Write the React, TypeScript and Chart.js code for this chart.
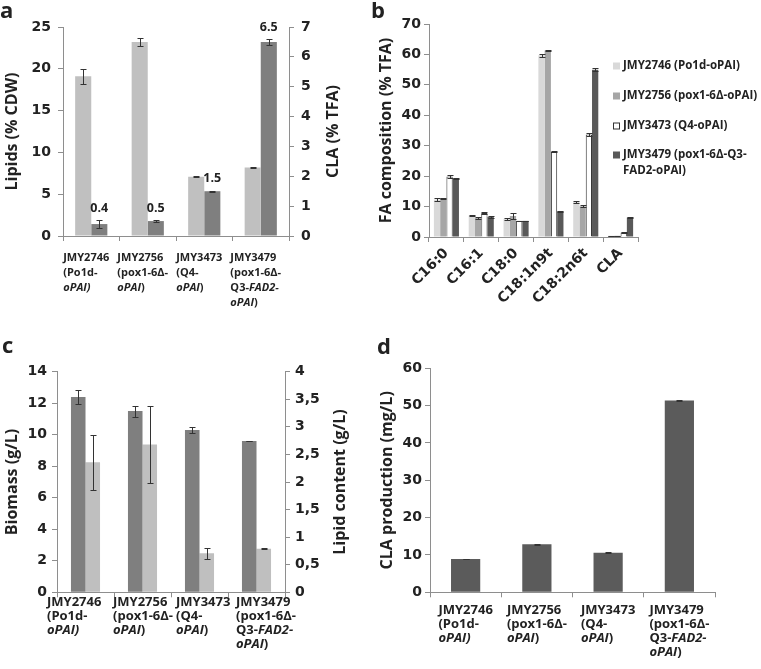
import React, { useEffect, useRef } from "react";
import { Chart, registerables } from "chart.js";

Chart.register(...registerables);

const FONT = "'Open Sans', 'DejaVu Sans', sans-serif";
const TICKFONT = "'DejaVu Sans', sans-serif";
const TEXT = "#222222";
const AXIS = "#8e8e8e";
const ERR = "#333333";

// ---------- shared categories ----------
const strains = ["JMY2746", "JMY2756", "JMY3473", "JMY3479"];
// "_" toggles italic
const strainLabelLines = [
  ["JMY2746", "(Po1d-", "_oPAI)_"],
  ["JMY2756", "(pox1-6Δ-", "_oPAI_)"],
  ["JMY3473", "(Q4-", "_oPAI_)"],
  ["JMY3479", "(pox1-6Δ-", "Q3-_FAD2-_", "_oPAI_)"],
];

// ---------- panel a ----------
const lipidsCDW = [19.1, 23.2, 7.1, 8.2];
const lipidsCDWErr = [0.9, 0.5, 0.1, 0.05];
const claTFA = [0.4, 0.5, 1.5, 6.5];
const claTFAErr = [0.12, 0.02, 0.02, 0.1];
const lipidsTicks = { min: 0, max: 25, step: 5 };
const claTFATicks = { min: 0, max: 7, step: 1 };

// ---------- panel b ----------
const fattyAcids = ["C16:0", "C16:1", "C18:0", "C18:1n9t", "C18:2n6t", "CLA"];
const faSeriesNames = [
  "JMY2746 (Po1d-oPAI)",
  "JMY2756 (pox1-6Δ-oPAI)",
  "JMY3473 (Q4-oPAI)",
  "JMY3479 (pox1-6Δ-Q3-FAD2-oPAI)",
];
const fa2746 = [12.3, 7.1, 6.0, 59.7, 11.5, 0.4];
const fa2756 = [12.7, 6.3, 6.9, 61.3, 10.1, 0.4];
const fa3473 = [19.9, 7.9, 5.3, 28.0, 33.7, 1.5];
const fa3479 = [19.2, 6.6, 5.3, 8.4, 55.0, 6.4];
const fa2746Err = [0.5, 0.15, 0.4, 0.4, 0.2, 0.05];
const fa2756Err = [0.2, 0.25, 1.1, 0.2, 0.3, 0.05];
const fa3473Err = [0.4, 0.3, 0.1, 0.1, 0.5, 0.1];
const fa3479Err = [0.2, 0.2, 0.1, 0.1, 0.4, 0.1];
const faTicks = { min: 0, max: 70, step: 10 };

// ---------- panel c ----------
const biomass = [12.4, 11.5, 10.3, 9.6];
const biomassErr = [0.45, 0.35, 0.2, 0.02];
const lipidContent = [2.36, 2.68, 0.71, 0.79];
const lipidContentErr = [0.5, 0.7, 0.1, 0.01];
const biomassTicks = { min: 0, max: 14, step: 2 };
const lipidContentTicks = { min: 0, max: 4, step: 0.5 };

// ---------- panel d ----------
const claProduction = [8.9, 12.9, 10.6, 51.4];
const claProductionErr = [0.1, 0.1, 0.1, 0.1];
const claProdTicks = { min: 0, max: 60, step: 10 };

// ---------- helpers ----------
function parseLine(s: string) {
  const parts = s.split("_");
  return parts.map((t, i) => ({ t, i: i % 2 === 1 })).filter((p) => p.t.length > 0);
}

function fontStr(size: number, italic = false, family = FONT) {
  return `${italic ? "italic " : ""}bold ${size}px ${family}`;
}

function xScale(height: number, showTicks = false, tickFont = 14) {
  return {
    type: "category",
    offset: true,
    grid: {
      display: true,
      drawOnChartArea: false,
      drawTicks: true,
      tickLength: 5,
      color: AXIS,
      offset: true,
    },
    border: { display: true, color: AXIS, width: 1 },
    ticks: showTicks
      ? {
          display: true,
          autoSkip: false,
          minRotation: 45,
          maxRotation: 45,
          padding: 3,
          color: TEXT,
          font: { family: TICKFONT, size: tickFont, weight: "bold" },
        }
      : { display: false },
    afterFit: (s: any) => {
      s.height = height;
    },
  };
}

function yScale(o: {
  min: number;
  max: number;
  step: number;
  width: number;
  pad: number;
  pos: "left" | "right";
  comma?: boolean;
}) {
  return {
    type: "linear",
    position: o.pos,
    min: o.min,
    max: o.max,
    ticks: {
      stepSize: o.step,
      padding: o.pad,
      color: TEXT,
      font: { family: TICKFONT, size: 14, weight: "bold" },
      callback: (v: any) => {
        const s = String(Math.round(Number(v) * 100) / 100);
        return o.comma ? s.replace(".", ",") : s;
      },
    },
    grid: {
      drawOnChartArea: false,
      drawTicks: true,
      tickLength: 5,
      color: AXIS,
    },
    border: { display: true, color: AXIS, width: 1 },
    afterFit: (s: any) => {
      s.width = o.width;
    },
  };
}

type Decor = {
  titles: { text: string; x: number }[];
  xLabels?: {
    size: number;
    lineHeight: number;
    firstY: number;
    align: "center" | "left";
    shifts: number[];
  };
  errors: (number[] | null)[];
  valueLabels?: { datasetIndex: number; gap: number; size: number };
  legend?: {
    x: number;
    ys: number[];
    lineGap: number;
    maxWidth: number;
    names: string[];
    fills: string[];
    strokes: string[];
    size: number;
  };
};

function wrapText(ctx: CanvasRenderingContext2D, text: string, maxW: number): string[] {
  if (ctx.measureText(text).width <= maxW) return [text];
  let best = -1;
  for (let i = 0; i < text.length; i++) {
    const c = text[i];
    if (c === "-" || c === " ") {
      const head = text.slice(0, i + 1);
      if (ctx.measureText(head.trimEnd()).width <= maxW) best = i + 1;
    }
  }
  if (best <= 0) return [text];
  return [text.slice(0, best).trimEnd(), ...wrapText(ctx, text.slice(best).trimStart(), maxW)];
}

function decorPlugin(cfg: Decor) {
  return {
    id: "decor",
    afterDatasetsDraw(chart: any) {
      const ctx: CanvasRenderingContext2D = chart.ctx;
      ctx.save();
      ctx.strokeStyle = ERR;
      ctx.lineWidth = 1;
      chart.data.datasets.forEach((ds: any, di: number) => {
        const errs = cfg.errors[di];
        if (!errs) return;
        const meta = chart.getDatasetMeta(di);
        const ys = chart.scales[meta.yAxisID];
        meta.data.forEach((bar: any, i: number) => {
          const v = ds.data[i];
          const e = errs[i];
          const x = Math.round(bar.x) + 0.5;
          const yT = Math.round(ys.getPixelForValue(v + e)) + 0.5;
          const yB = Math.round(ys.getPixelForValue(v - e)) + 0.5;
          ctx.beginPath();
          ctx.moveTo(x, yT);
          ctx.lineTo(x, yB);
          ctx.moveTo(x - 3, yT);
          ctx.lineTo(x + 3, yT);
          ctx.moveTo(x - 3, yB);
          ctx.lineTo(x + 3, yB);
          ctx.stroke();
        });
      });
      ctx.restore();
    },
    afterDraw(chart: any) {
      const ctx: CanvasRenderingContext2D = chart.ctx;
      const area = chart.chartArea;
      ctx.save();
      ctx.fillStyle = TEXT;

      // axis titles (rotated, reading bottom to top)
      cfg.titles.forEach((t) => {
        ctx.save();
        ctx.translate(t.x, (area.top + area.bottom) / 2);
        ctx.rotate(-Math.PI / 2);
        ctx.font = fontStr(16);
        ctx.textAlign = "center";
        ctx.textBaseline = "middle";
        ctx.fillText(t.text, 0, 0);
        ctx.restore();
      });

      // multi-line strain labels with italic parts
      if (cfg.xLabels) {
        const xl = cfg.xLabels;
        const xs = chart.scales.x;
        const half = (xs.right - xs.left) / strains.length / 2;
        ctx.textAlign = "left";
        ctx.textBaseline = "middle";
        strainLabelLines.forEach((lines, ci) => {
          const c = xs.getPixelForValue(ci);
          const parsed = lines.map(parseLine);
          const widths = parsed.map((segs) =>
            segs.reduce((w, s) => {
              ctx.font = fontStr(xl.size, s.i);
              return w + ctx.measureText(s.t).width;
            }, 0)
          );
          const bw = Math.max(...widths);
          const x0 =
            xl.align === "center" ? c - bw / 2 + xl.shifts[ci] : c - half + xl.shifts[ci];
          parsed.forEach((segs, li) => {
            let x = x0;
            const y = xs.top + xl.firstY + li * xl.lineHeight;
            segs.forEach((s) => {
              ctx.font = fontStr(xl.size, s.i);
              ctx.fillText(s.t, x, y);
              x += ctx.measureText(s.t).width;
            });
          });
        });
      }

      // value labels above bars
      if (cfg.valueLabels) {
        const vl = cfg.valueLabels;
        const ds = chart.data.datasets[vl.datasetIndex];
        const meta = chart.getDatasetMeta(vl.datasetIndex);
        const ys = chart.scales[meta.yAxisID];
        const errs = cfg.errors[vl.datasetIndex] || [];
        ctx.font = fontStr(vl.size);
        ctx.textAlign = "center";
        ctx.textBaseline = "middle";
        meta.data.forEach((bar: any, i: number) => {
          const v = ds.data[i];
          const y = ys.getPixelForValue(v + (errs[i] || 0)) - vl.gap;
          ctx.fillText(Number(v).toFixed(1), bar.x, y);
        });
      }

      // legend
      if (cfg.legend) {
        const lg = cfg.legend;
        ctx.font = fontStr(lg.size);
        ctx.textAlign = "left";
        ctx.textBaseline = "middle";
        lg.names.forEach((name, i) => {
          const y = lg.ys[i];
          ctx.fillStyle = lg.fills[i];
          ctx.fillRect(lg.x, y - 3.5, 7, 7);
          if (lg.strokes[i] !== "none") {
            ctx.strokeStyle = lg.strokes[i];
            ctx.lineWidth = 1;
            ctx.strokeRect(lg.x + 0.5, y - 3.5 + 0.5, 6, 6);
          }
          ctx.fillStyle = TEXT;
          const lines = wrapText(ctx, name, lg.maxWidth);
          lines.forEach((ln, li) => ctx.fillText(ln, lg.x + 10, y + li * lg.lineGap));
        });
      }
      ctx.restore();
    },
  };
}

// ---------- configs ----------
function configA() {
  return {
    type: "bar",
    data: {
      labels: strains,
      datasets: [
        {
          label: "Lipids (% CDW)",
          data: lipidsCDW,
          backgroundColor: "#c0c0c0",
          borderWidth: 0,
          yAxisID: "y",
          categoryPercentage: 0.57,
          barPercentage: 1,
        },
        {
          label: "CLA (% TFA)",
          data: claTFA,
          backgroundColor: "#7f7f7f",
          borderWidth: 0,
          yAxisID: "y1",
          categoryPercentage: 0.57,
          barPercentage: 1,
        },
      ],
    },
    options: {
      responsive: false,
      animation: false,
      layout: { padding: { top: 27, left: 0, right: 0, bottom: 0 } },
      plugins: { legend: { display: false }, tooltip: { enabled: false } },
      scales: {
        x: xScale(99),
        y: yScale({ ...lipidsTicks, width: 63, pad: 7, pos: "left" }),
        y1: yScale({ ...claTFATicks, width: 86, pad: 7, pos: "right" }),
      },
    },
    plugins: [
      decorPlugin({
        titles: [
          { text: "Lipids (% CDW)", x: 12 },
          { text: "CLA (% TFA)", x: 333 },
        ],
        xLabels: { size: 11, lineHeight: 15, firstY: 22, align: "center", shifts: [-5, -5, -5, -5] },
        errors: [lipidsCDWErr, claTFAErr],
        valueLabels: { datasetIndex: 1, gap: 12, size: 12.5 },
      }),
    ],
  };
}

const faFills = ["#d9d9d9", "#a6a6a6", "#ffffff", "#595959"];
const faStrokes = ["none", "none", "#333333", "none"];

function configB() {
  const series = [fa2746, fa2756, fa3473, fa3479];
  return {
    type: "bar",
    data: {
      labels: fattyAcids,
      datasets: series.map((d, i) => ({
        label: faSeriesNames[i],
        data: d,
        backgroundColor: faFills[i],
        borderColor: faStrokes[i] === "none" ? faFills[i] : faStrokes[i],
        borderWidth: faStrokes[i] === "none" ? 0 : 1,
        categoryPercentage: 0.72,
        barPercentage: 1,
      })),
    },
    options: {
      responsive: false,
      animation: false,
      layout: { padding: { top: 24, left: 0, right: 123, bottom: 0 } },
      plugins: { legend: { display: false }, tooltip: { enabled: false } },
      scales: {
        x: xScale(98, true, 14),
        y: yScale({ ...faTicks, width: 54, pad: 3, pos: "left" }),
      },
    },
    plugins: [
      decorPlugin({
        titles: [{ text: "FA composition (% TFA)", x: 11 }],
        errors: [fa2746Err, fa2756Err, fa3473Err, fa3479Err],
        legend: {
          x: 238,
          ys: [66, 96, 126, 155],
          lineGap: 16,
          maxWidth: 150,
          names: faSeriesNames,
          fills: faFills,
          strokes: faStrokes,
          size: 11.5,
        },
      }),
    ],
  };
}

function configC() {
  return {
    type: "bar",
    data: {
      labels: strains,
      datasets: [
        {
          label: "Biomass (g/L)",
          data: biomass,
          backgroundColor: "#7f7f7f",
          borderWidth: 0,
          yAxisID: "y",
          categoryPercentage: 0.51,
          barPercentage: 1,
        },
        {
          label: "Lipid content (g/L)",
          data: lipidContent,
          backgroundColor: "#bfbfbf",
          borderWidth: 0,
          yAxisID: "y1",
          categoryPercentage: 0.51,
          barPercentage: 1,
        },
      ],
    },
    options: {
      responsive: false,
      animation: false,
      layout: { padding: { top: 36.7, left: 0, right: 0, bottom: 0 } },
      plugins: { legend: { display: false }, tooltip: { enabled: false } },
      scales: {
        x: xScale(76.7),
        y: yScale({ ...biomassTicks, width: 57, pad: 5, pos: "left" }),
        y1: yScale({ ...lipidContentTicks, width: 90, pad: 5, pos: "right", comma: true }),
      },
    },
    plugins: [
      decorPlugin({
        titles: [
          { text: "Biomass (g/L)", x: 12 },
          { text: "Lipid content (g/L)", x: 340 },
        ],
        xLabels: { size: 13, lineHeight: 14.3, firstY: 9.5, align: "left", shifts: [-10, -1, 5, 8] },
        errors: [biomassErr, lipidContentErr],
      }),
    ],
  };
}

function configD() {
  return {
    type: "bar",
    data: {
      labels: strains,
      datasets: [
        {
          label: "CLA production (mg/L)",
          data: claProduction,
          backgroundColor: "#5b5b5b",
          borderWidth: 0,
          categoryPercentage: 0.41,
          barPercentage: 1,
        },
      ],
    },
    options: {
      responsive: false,
      animation: false,
      layout: { padding: { top: 33.3, left: 0, right: 46, bottom: 0 } },
      plugins: { legend: { display: false }, tooltip: { enabled: false } },
      scales: {
        x: xScale(76.7),
        y: yScale({ ...claProdTicks, width: 55, pad: 3, pos: "left" }),
      },
    },
    plugins: [
      decorPlugin({
        titles: [{ text: "CLA production (mg/L)", x: 12 }],
        xLabels: { size: 13, lineHeight: 14.2, firstY: 17.7, align: "center", shifts: [0, 0, 0, 0] },
        errors: [claProductionErr],
      }),
    ],
  };
}

function Panel(props: { left: number; top: number; width: number; height: number; build: () => any }) {
  const ref = useRef<HTMLCanvasElement>(null);
  useEffect(() => {
    if (!ref.current) return;
    const chart = new Chart(ref.current, props.build());
    return () => chart.destroy();
  }, []);
  return (
    <canvas
      ref={ref}
      width={props.width}
      height={props.height}
      style={{
        position: "absolute",
        left: props.left,
        top: props.top,
        width: props.width,
        height: props.height,
      }}
    />
  );
}

const letterStyle = (left: number, top: number): React.CSSProperties => ({
  position: "absolute",
  left,
  top,
  fontFamily: FONT,
  fontWeight: 700,
  fontSize: 22,
  lineHeight: "22px",
  color: TEXT,
});

export default function App() {
  return (
    <div
      style={{
        position: "absolute",
        left: 0,
        top: 0,
        width: 761,
        height: 669,
        background: "#ffffff",
        overflow: "hidden",
      }}
    >
      <Panel left={0} top={0} width={375} height={335} build={configA} />
      <Panel left={375} top={0} width={386} height={335} build={configB} />
      <Panel left={0} top={335} width={375} height={334} build={configC} />
      <Panel left={375} top={335} width={386} height={334} build={configD} />
      <div style={letterStyle(0, -2)}>a</div>
      <div style={letterStyle(371, -2)}>b</div>
      <div style={letterStyle(2, 333)}>c</div>
      <div style={letterStyle(377, 334)}>d</div>
    </div>
  );
}
